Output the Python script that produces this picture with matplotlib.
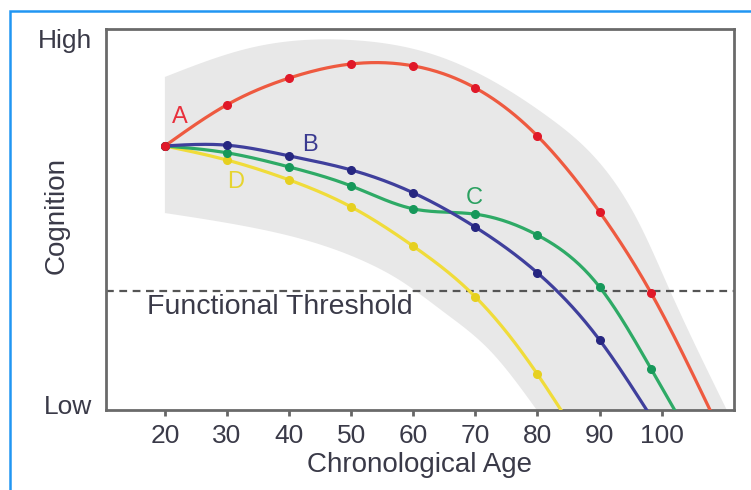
import numpy as np
import matplotlib
matplotlib.use("Agg")
import matplotlib.pyplot as plt
from matplotlib.patches import Rectangle

plt.rcParams['font.family'] = ['Liberation Sans', 'DejaVu Sans']

# values (cognition on a 0-100 scale, Low=bottom, High=top)
ages_a = [20, 30, 40, 50, 60, 70, 80, 90, 98.3]
cog_a = [69.3, 80.1, 87.1, 90.8, 90.3, 84.5, 71.9, 52.0, 30.7]
end_a = (107.8, 0)

ages_b = [20, 30, 40, 50, 60, 70, 80, 90]
cog_b = [69.3, 69.5, 66.7, 63.0, 57.0, 48.0, 36.0, 18.4]
end_b = (97.6, 0)

ages_c = [20, 30, 40, 50, 60, 70, 80, 90, 98.3]
cog_c = [69.3, 67.5, 63.8, 58.8, 52.8, 51.4, 45.9, 32.3, 10.8]
end_c = (102.1, 0)

ages_d = [20, 30, 40, 50, 60, 70, 80]
cog_d = [69.3, 65.6, 60.4, 53.3, 43.0, 29.7, 9.4]
end_d = (83.8, 0)

band_upper_age = [20, 33.7, 49.8, 64.3, 82.0, 96.5, 101.3, 110.5]
band_upper = [87.4, 95.0, 97.1, 92.7, 76.6, 48.6, 31.5, 0]
band_lower_age = [20, 33.7, 44.3, 52.4, 57.8, 65.1, 72.3, 79.9]
band_lower = [51.7, 48.0, 43.8, 38.8, 34.1, 25.5, 15.7, 0]

threshold = 31.3
age_ticks = [20, 30, 40, 50, 60, 70, 80, 90, 100]


def smooth(x, y, n=300):
    # natural cubic spline, only used to draw smooth curves through the read points
    x = np.asarray(x, float)
    y = np.asarray(y, float)
    k = len(x)
    h = np.diff(x)
    A = np.zeros((k, k))
    r = np.zeros(k)
    A[0, 0] = A[-1, -1] = 1
    for i in range(1, k - 1):
        A[i, i - 1] = h[i - 1]
        A[i, i] = 2 * (h[i - 1] + h[i])
        A[i, i + 1] = h[i]
        r[i] = 6 * ((y[i + 1] - y[i]) / h[i] - (y[i] - y[i - 1]) / h[i - 1])
    M = np.linalg.solve(A, r)
    xs = np.linspace(x[0], x[-1], n)
    idx = np.clip(np.searchsorted(x, xs) - 1, 0, k - 2)
    x0, x1 = x[idx], x[idx + 1]
    hh = x1 - x0
    t0, t1 = x1 - xs, xs - x0
    ys = (M[idx] * t0 ** 3 / (6 * hh) + M[idx + 1] * t1 ** 3 / (6 * hh)
          + (y[idx] / hh - M[idx] * hh / 6) * t0
          + (y[idx + 1] / hh - M[idx + 1] * hh / 6) * t1)
    return xs, ys


fig = plt.figure(figsize=(7.51, 4.90), dpi=100)
ax = fig.add_axes([0.141, 0.163, 0.836, 0.778])
text_col = '#3a3a48'

# grey envelope
ux, uy = smooth(band_upper_age, band_upper)
lx, ly = smooth(band_lower_age, band_lower)
ax.fill(np.concatenate([ux, lx[::-1]]), np.concatenate([uy, ly[::-1]]),
        color='#e8e8e8', lw=0, zorder=1)

# functional threshold
ax.axhline(threshold, color='#555555', lw=1.6, ls=(0, (3.5, 2.5)), zorder=2)
ax.text(17.1, threshold - 4.3, 'Functional Threshold', fontsize=20.5,
        color=text_col, va='center', ha='left')

series = [
    (ages_d, cog_d, end_d, '#f0dc3a', '#e6d020'),
    (ages_c, cog_c, end_c, '#2eaa66', '#16985a'),
    (ages_b, cog_b, end_b, '#3f3f9c', '#262680'),
    (ages_a, cog_a, end_a, '#ee5a40', '#e01828'),
]
for ages, cog, end, line_col, dot_col in series:
    xs, ys = smooth(list(ages) + [end[0]], list(cog) + [end[1]])
    ax.plot(xs, ys, color=line_col, lw=2.3, zorder=3)
    ax.plot(ages, cog, 'o', color=dot_col, ms=5.5, zorder=4)

ax.text(22.4, 76.9, 'A', color='#e8303c', fontsize=17, ha='center', va='center')
ax.text(43.3, 69.6, 'B', color='#3a3a90', fontsize=17, ha='center', va='center')
ax.text(69.8, 55.6, 'C', color='#2aa060', fontsize=17, ha='center', va='center')
ax.text(31.4, 59.8, 'D', color='#e6d430', fontsize=17, ha='center', va='center')

ax.set_xlim(10.5, 111.6)
ax.set_ylim(0, 100)
ax.set_xticks(age_ticks)
ax.set_xticklabels([str(t) for t in age_ticks], fontsize=19, color=text_col)
ax.set_yticks([1.5, 97.5])
ax.set_yticklabels(['Low', 'High'], fontsize=19, color=text_col)
ax.tick_params(axis='x', length=4, width=2, color='#666666', pad=6)
ax.tick_params(axis='y', length=0, pad=10)
ax.set_xlabel('Chronological Age', fontsize=20, color=text_col, labelpad=3)
ax.set_ylabel('Cognition', fontsize=20, color=text_col)
ax.yaxis.set_label_coords(-0.058, 0.51)
for sp in ax.spines.values():
    sp.set_color('#6a6a6a')
    sp.set_linewidth(2)

# light blue frame round the picture
fig.patches.append(Rectangle((10 / 751, -0.05), 1.1, (490 - 11) / 490 + 0.05,
                             transform=fig.transFigure, fill=False,
                             edgecolor='#2196f3', lw=1.8))

fig.savefig('out.png', dpi=100)
